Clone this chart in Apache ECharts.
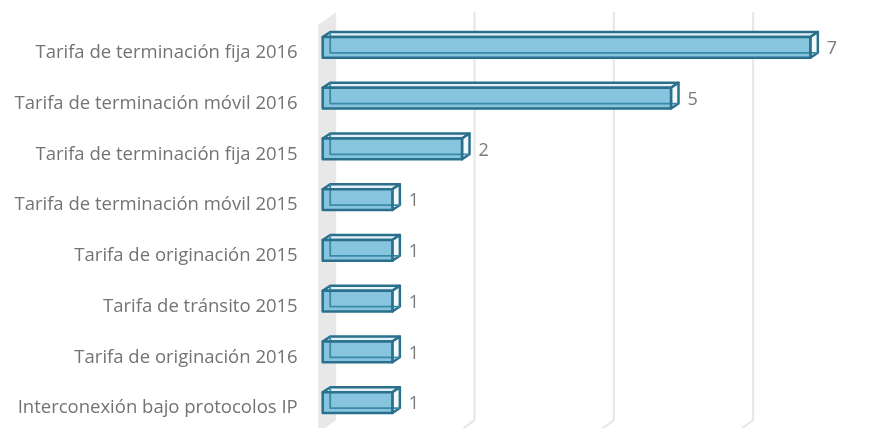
<!DOCTYPE html>
<html>
<head>
<meta charset="utf-8">
<script src="https://cdn.jsdelivr.net/npm/echarts@6/dist/echarts.min.js"></script>
<style>html,body{margin:0;padding:0;background:#fff}#c{width:880px;height:428px}</style>
</head>
<body>
<div id="c"></div>
<script>
const categories = [
  'Tarifa de terminación fija 2016',
  'Tarifa de terminación móvil 2016',
  'Tarifa de terminación fija 2015',
  'Tarifa de terminación móvil 2015',
  'Tarifa de originación 2015',
  'Tarifa de tránsito 2015',
  'Tarifa de originación 2016',
  'Interconexión bajo protocolos IP'
];
const values = [7, 5, 2, 1, 1, 1, 1, 1];
const ticks = [0, 2, 4, 6, 8];

const DX = 7.5, DY = -5;      // bar depth offset
const BX = 12.5;              // back plane offset
const chart = echarts.init(document.getElementById('c'), null, {renderer: 'canvas'});

function gridItem(params, api) {
  const v = api.value(0);
  const cs = params.coordSys;
  const x = api.coord([v, 0])[0];
  const top = cs.y - 10, bot = cs.y + cs.height - 8;
  if (v === 0) {
    return {
      type: 'polygon',
      shape: {points: [[x - 4.5, top + 13], [x + BX + 1, top], [x + BX + 1, bot], [x - 4.5, bot + 13]]},
      style: {fill: '#e8e8e8'}
    };
  }
  const gx = x + BX;
  return {
    type: 'polyline',
    shape: {points: [[gx, top], [gx, bot], [gx - 12, bot + 9]]},
    style: {stroke: '#e6e6e6', lineWidth: 2, fill: null}
  };
}

function barItem(params, api) {
  const v = api.value(0), i = api.value(1);
  const p0 = api.coord([0, i]);
  const p1 = api.coord([v, i]);
  const bw = api.size([0, 1])[1];
  const h = bw * 0.41;
  const c = p0[1];
  const x0 = p0[0], x1 = p1[0];
  const yt = c - h / 2, yb = c + h / 2;
  const edge = '#2a6f8c';
  return {
    type: 'group',
    children: [
      {type: 'polygon', shape: {points: [[x0, yt], [x0 + DX, yt + DY], [x1 + DX, yt + DY], [x1, yt]]},
        style: {fill: '#e4f1f6', stroke: edge, lineWidth: 2.5, lineJoin: 'round'}},
      {type: 'polygon', shape: {points: [[x1, yt], [x1 + DX, yt + DY], [x1 + DX, yb + DY], [x1, yb]]},
        style: {fill: '#f1f8fa', stroke: edge, lineWidth: 2.5, lineJoin: 'round'}},
      {type: 'rect', shape: {x: x0, y: yt, width: x1 - x0, height: h},
        style: {fill: '#87c5de'}},
      {type: 'polyline', shape: {points: [[x0 + DX, yt + DY], [x0 + DX, yb + DY], [x1 + DX, yb + DY]]},
        style: {stroke: '#3a89a8', lineWidth: 1.8, fill: null}},
      {type: 'rect', shape: {x: x0, y: yt, width: x1 - x0, height: h},
        style: {fill: null, stroke: edge, lineWidth: 2.5, lineJoin: 'round'}},
      {type: 'text', x: x1 + DX + 9, y: c + 1.5,
        style: {text: String(v), fill: '#7a7a7a', font: '18px "Open Sans"', textAlign: 'left', textVerticalAlign: 'middle'}}
    ]
  };
}

chart.setOption({
  animation: false,
  grid: {left: 322.7, right: -1, top: 22, height: 408},
  xAxis: {type: 'value', min: 0, max: 8, interval: 2, show: false},
  yAxis: {
    type: 'category', data: categories, inverse: true,
    axisLine: {show: false}, axisTick: {show: false}, splitLine: {show: false},
    axisLabel: {margin: 25, fontSize: 18.5, color: '#737373', fontFamily: 'Open Sans', verticalAlign: 'top', lineHeight: 11}
  },
  series: [
    {type: 'custom', renderItem: gridItem, data: ticks.map(t => [t, 0]), encode: {x: 0, y: 1}, silent: true, z: 1, clip: false},
    {type: 'custom', renderItem: barItem, data: values.map((v, i) => [v, i]), encode: {x: 0, y: 1}, z: 2, clip: false}
  ]
});
</script>
</body>
</html>
